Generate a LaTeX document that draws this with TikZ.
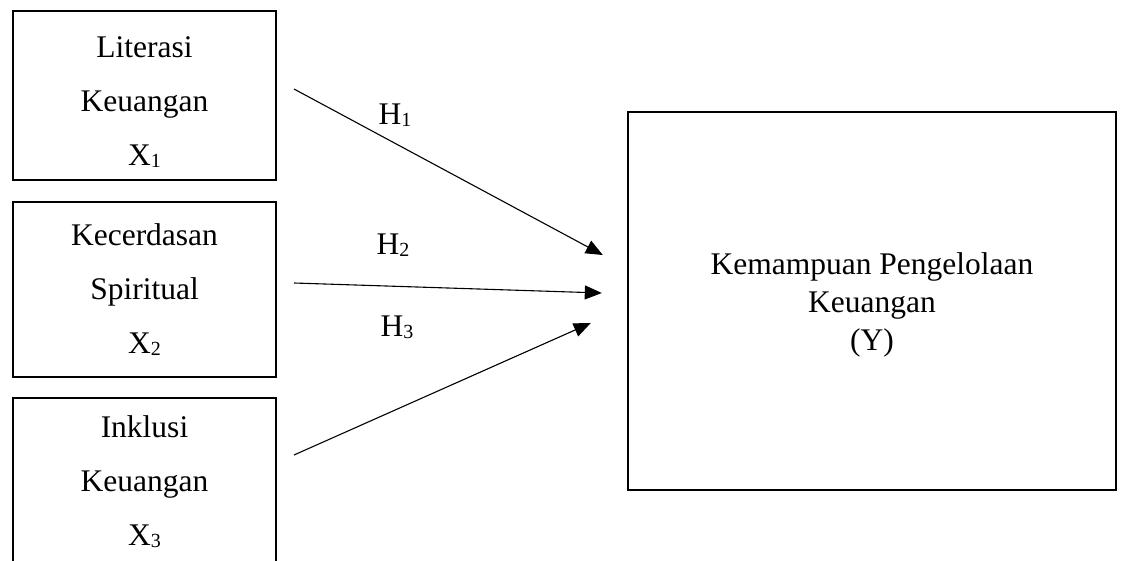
\documentclass[tikz,border=0pt]{standalone}
\usepackage{fontspec}
\setmainfont{Liberation Serif}
\usetikzlibrary{arrows.meta,calc}
\newcommand{\sbx}[1]{\raisebox{-2pt}{\fontsize{20}{20}\selectfont #1}}
\begin{document}
\begin{tikzpicture}[x=1pt,y=-1pt,
  varbox/.style={draw,line width=2pt,minimum width=263pt,inner sep=0pt,align=center,
    font=\fontsize{31.5}{54}\selectfont},
  ybox/.style={draw,line width=2.4pt,minimum width=488pt,minimum height=378pt,inner sep=0pt,
    align=center,font=\fontsize{31.5}{38}\selectfont},
  arr/.style={-{Triangle[length=17pt,width=14pt]},line width=1.1pt},
  hlab/.style={font=\fontsize{31.5}{38}\selectfont,inner sep=0pt}]
\useasboundingbox (0,0) rectangle (1124,560);

\node[varbox,minimum height=169pt] (x1) at (144.5,95.5) {\rule{0pt}{34pt}Literasi\\Keuangan\\X\sbx{1}};
\node[varbox,minimum height=175pt] (x2) at (144.5,289.5) {Kecerdasan\\Spiritual\\X\sbx{2}};
\node[varbox,minimum height=168pt] (x3) at (144.5,482) {Inklusi\\Keuangan\\X\sbx{3}};
\node[ybox] (y) at (872,301) {\rule{0pt}{30pt}Kemampuan Pengelolaan\\Keuangan\\(Y)};

\coordinate (s1) at ($(x1.east)+(17,-6.5)$);
\coordinate (s2) at ($(x2.east)+(17,-6.5)$);
\coordinate (s3) at ($(x3.east)+(17,-27)$);
\coordinate (t1) at ($(y.west)+(-24,-46)$);
\coordinate (t2) at ($(y.west)+(-25,-8)$);
\coordinate (t3) at ($(y.west)+(-36,22)$);

\draw[arr] (s1) -- (t1);
\draw[arr] (s2) -- (t2);
\draw[arr] (s3) -- (t3);

\node[hlab] (h1) at (395,115) {H\sbx{1}};
\node[hlab] (h2) at (393,245) {H\sbx{2}};
\node[hlab] (h3) at (397,327) {H\sbx{3}};
\end{tikzpicture}
\end{document}
